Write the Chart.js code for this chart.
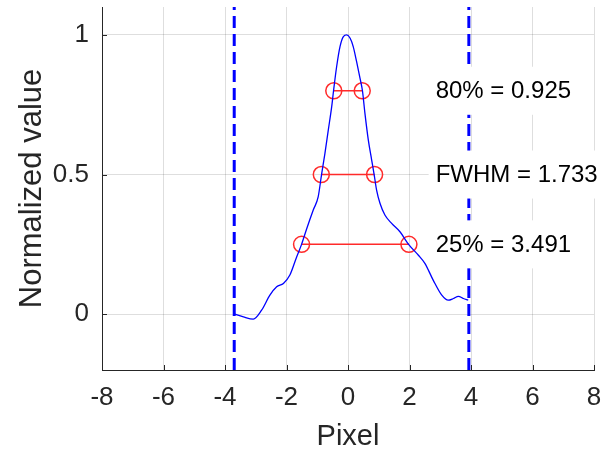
<!DOCTYPE html>
<html>
<head>
<meta charset="utf-8">
<script src="https://cdn.jsdelivr.net/npm/chart.js@4/dist/chart.umd.min.js"></script>
<style>
html,body{margin:0;padding:0;background:#fff;}
#wrap{width:602px;height:452px;position:relative;}
</style>
</head>
<body>
<div id="wrap"><canvas id="c" width="602" height="452"></canvas></div>
<script>
// ---- data ----
const profileX = [-3.67,-3.40,-3.08,-2.81,-2.54,-2.32,-2.10,-1.89,-1.67,-1.51,-1.34,-1.13,-0.97,-0.86,-0.75,-0.64,-0.53,-0.47,-0.37,-0.26,-0.15,-0.04,0.07,0.17,0.28,0.39,0.47,0.55,0.66,0.77,0.85,0.93,1.04,1.20,1.42,1.69,1.97,2.29,2.50,2.77,3.05,3.26,3.43,3.59,3.75,3.91];
const profileY = [0.0,-0.01,-0.018,0.014,0.068,0.098,0.11,0.14,0.205,0.25,0.307,0.373,0.42,0.50,0.576,0.66,0.743,0.80,0.886,0.958,0.994,1.0,0.988,0.958,0.904,0.845,0.80,0.72,0.624,0.552,0.50,0.444,0.397,0.355,0.325,0.295,0.25,0.211,0.182,0.122,0.068,0.05,0.056,0.064,0.056,0.05];
const boundX = [-3.70, 3.93];
const levelY = [0.8, 0.5, 0.25];
const levelLeftX = [-0.4625, -0.868, -1.51];
const levelRightX = [0.4625, 0.865, 1.981];
const levelLabels = ["80% = 0.925", "FWHM = 1.733", "25% = 3.491"];
const labelX = 2.85;
const xTicks = [-8,-6,-4,-2,0,2,4,6,8];
const yTicks = [0,0.5,1];
const yTickLabels = ["0","0.5","1"];
const xRange = [-8, 8];
const yRange = [-0.2, 1.1];
const xTitle = "Pixel";
const yTitle = "Normalized value";

const FONT = "'Liberation Sans', Arial, Helvetica, sans-serif";
const AX = '#262626';

const datasets = [];
datasets.push({
  data: profileX.map((x,i)=>({x:x,y:profileY[i]})),
  borderColor:'#0000ff', borderWidth:1.3, pointRadius:0, showLine:true,
  cubicInterpolationMode:'monotone', fill:false
});
boundX.forEach(bx=>{
  datasets.push({
    data:[{x:bx,y:yRange[0]},{x:bx,y:yRange[1]}],
    borderColor:'#0000ff', borderWidth:3, borderDash:[12,6], pointRadius:0, showLine:true
  });
});
levelY.forEach((ly,i)=>{
  datasets.push({
    data:[{x:levelLeftX[i],y:ly},{x:levelRightX[i],y:ly}],
    borderColor:'#ff2a2a', borderWidth:1.5, showLine:true,
    pointRadius:8, pointStyle:'circle', pointBorderColor:'#ff2a2a', pointBorderWidth:1.5,
    pointBackgroundColor:'rgba(0,0,0,0)'
  });
});

const extras = {
  id:'extras',
  afterDatasetsDraw(chart){
    const ctx = chart.ctx, xs = chart.scales.x, ys = chart.scales.y;
    ctx.save();
    ctx.strokeStyle = AX; ctx.lineWidth = 1;
    const bottom = ys.getPixelForValue(yRange[0]);
    const left = xs.getPixelForValue(xRange[0]);
    xTicks.forEach(v=>{
      const px = Math.round(xs.getPixelForValue(v))+0.5;
      ctx.beginPath(); ctx.moveTo(px,bottom); ctx.lineTo(px,bottom-5); ctx.stroke();
    });
    yTicks.forEach(v=>{
      const py = Math.round(ys.getPixelForValue(v))+0.5;
      ctx.beginPath(); ctx.moveTo(left,py); ctx.lineTo(left+5,py); ctx.stroke();
    });
    ctx.font = '24px ' + FONT;
    ctx.textBaseline = 'middle'; ctx.textAlign = 'left';
    levelLabels.forEach((t,i)=>{
      const px = xs.getPixelForValue(labelX);
      const py = ys.getPixelForValue(levelY[i]);
      const w = ctx.measureText(t).width;
      ctx.fillStyle = '#ffffff';
      ctx.fillRect(px-7, py-24, w+17, 48);
      ctx.fillStyle = '#000000';
      ctx.fillText(t, px, py+1);
    });
    ctx.restore();
  }
};

new Chart(document.getElementById('c'), {
  type:'scatter',
  data:{datasets:datasets},
  options:{
    responsive:false, animation:false,
    layout:{autoPadding:false, padding:{left:0,right:8,top:7,bottom:0}},
    plugins:{legend:{display:false}, tooltip:{enabled:false}},
    scales:{
      x:{
        type:'linear', min:xRange[0], max:xRange[1],
        afterBuildTicks:s=>{s.ticks = xTicks.map(v=>({value:v}));},
        afterFit:s=>{s.height = 82; s.paddingLeft = 0; s.paddingRight = 0;},
        grid:{color:'rgba(0,0,0,0.13)', drawTicks:false},
        border:{display:true,color:AX,width:1},
        ticks:{padding:12, color:AX, font:{family:FONT,size:26}, maxRotation:0, autoSkip:false},
        title:{display:true,text:xTitle,color:AX,font:{family:FONT,size:29},padding:{top:0,bottom:-2}}
      },
      y:{
        type:'linear', min:yRange[0], max:yRange[1],
        afterBuildTicks:s=>{s.ticks = yTicks.map(v=>({value:v}));},
        afterFit:s=>{s.width = 102; s.paddingTop = 0; s.paddingBottom = 0;},
        grid:{color:'rgba(0,0,0,0.13)', drawTicks:false},
        border:{display:true,color:AX,width:1},
        ticks:{padding:13, color:AX, font:{family:FONT,size:26}, autoSkip:false,
          callback:(v)=>{const i = yTicks.indexOf(v); return i>=0 ? yTickLabels[i] : '';}},
        title:{display:true,text:yTitle,color:AX,font:{family:FONT,size:31},padding:{top:14,bottom:0}}
      }
    }
  },
  plugins:[extras]
});
</script>
</body>
</html>
